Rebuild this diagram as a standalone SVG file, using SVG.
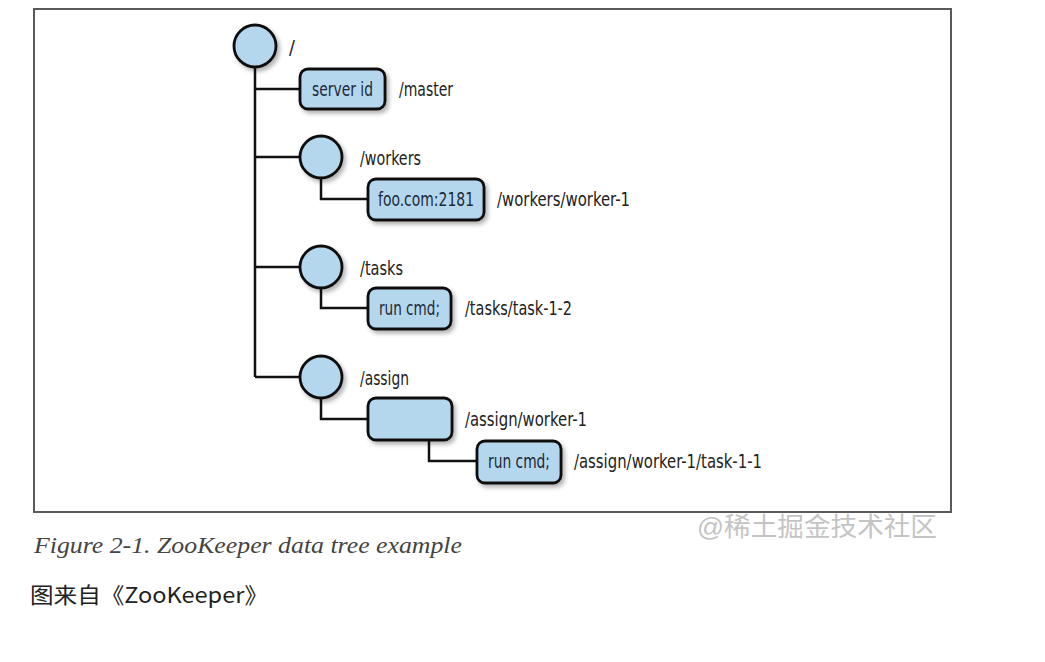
<svg xmlns="http://www.w3.org/2000/svg" width="1045" height="662" viewBox="0 0 1045 662">
<defs>
<filter id="sh" x="-20%" y="-20%" width="150%" height="160%">
<feDropShadow dx="2.5" dy="3" stdDeviation="2" flood-color="#000" flood-opacity="0.3"/>
</filter>
</defs>
<style>
.n{fill:#b5d7ee;stroke:#111;stroke-width:2.8;filter:url(#sh)}
.l{fill:none;stroke:#111;stroke-width:2.5}
.t{font-family:"Liberation Sans Narrow","DejaVu Sans Condensed","Liberation Sans",sans-serif;font-size:19.5px;fill:#222}
.bt{font-family:"Liberation Sans Narrow","DejaVu Sans Condensed","Liberation Sans",sans-serif;font-size:19.5px;fill:#1c2a3a;text-anchor:middle}
</style>
<rect x="0" y="0" width="1045" height="662" fill="#fff"/>
<rect x="34" y="9" width="917" height="503" fill="#fff" stroke="#5a5a5a" stroke-width="2"/>
<g id="connectors">
<path class="l" d="M255,66 V377 M255,89 H300 M255,157 H300 M255,267 H300 M255,377 H300"/>
<path class="l" d="M321,177 V199 H368 M321,287 V308 H368 M321,397 V419 H368 M429,440 V461 H477"/>
</g>
<g id="root"><circle class="n" cx="255" cy="46" r="21"/><text class="t" x="289" y="54">/</text></g>
<g id="master"><rect class="n" x="300" y="69" width="85" height="40" rx="8"/><text class="bt" x="342.5" y="96" textLength="61" lengthAdjust="spacingAndGlyphs">server id</text><text class="t" x="399" y="96" textLength="54" lengthAdjust="spacingAndGlyphs">/master</text></g>
<g id="workers"><circle class="n" cx="321" cy="157" r="21"/><text class="t" x="360" y="165" textLength="61" lengthAdjust="spacingAndGlyphs">/workers</text></g>
<g id="worker-1"><rect class="n" x="368" y="179" width="116" height="41" rx="8"/><text class="bt" x="426" y="206" textLength="96" lengthAdjust="spacingAndGlyphs">foo.com:2181</text><text class="t" x="497" y="206" textLength="133" lengthAdjust="spacingAndGlyphs">/workers/worker-1</text></g>
<g id="tasks"><circle class="n" cx="321" cy="267" r="21"/><text class="t" x="360" y="275" textLength="43" lengthAdjust="spacingAndGlyphs">/tasks</text></g>
<g id="task-1-2"><rect class="n" x="368" y="288" width="83" height="41" rx="8"/><text class="bt" x="409.5" y="315" textLength="61" lengthAdjust="spacingAndGlyphs">run cmd;</text><text class="t" x="465" y="315" textLength="107" lengthAdjust="spacingAndGlyphs">/tasks/task-1-2</text></g>
<g id="assign"><circle class="n" cx="321" cy="377" r="21"/><text class="t" x="360" y="385" textLength="49" lengthAdjust="spacingAndGlyphs">/assign</text></g>
<g id="assign-worker-1"><rect class="n" x="368" y="398" width="84" height="42" rx="8"/><text class="t" x="465" y="426" textLength="122" lengthAdjust="spacingAndGlyphs">/assign/worker-1</text></g>
<g id="task-1-1"><rect class="n" x="477" y="441" width="84" height="42" rx="8"/><text class="bt" x="519" y="468" textLength="62" lengthAdjust="spacingAndGlyphs">run cmd;</text><text class="t" x="574" y="468" textLength="188" lengthAdjust="spacingAndGlyphs">/assign/worker-1/task-1-1</text></g>
<text x="697" y="536" font-family="'Liberation Sans','Noto Sans CJK SC',sans-serif" font-size="26" fill="#c4c4c4" textLength="240" lengthAdjust="spacingAndGlyphs">@稀土掘金技术社区</text>
<text x="34" y="553" font-family="'Liberation Serif',serif" font-style="italic" font-size="23" fill="#444" textLength="428" lengthAdjust="spacingAndGlyphs">Figure 2-1. ZooKeeper data tree example</text>
<text x="30" y="603" font-family="'Noto Sans CJK SC',sans-serif" font-size="22" fill="#222" textLength="238" lengthAdjust="spacingAndGlyphs">图来自《ZooKeeper》</text>
</svg>
